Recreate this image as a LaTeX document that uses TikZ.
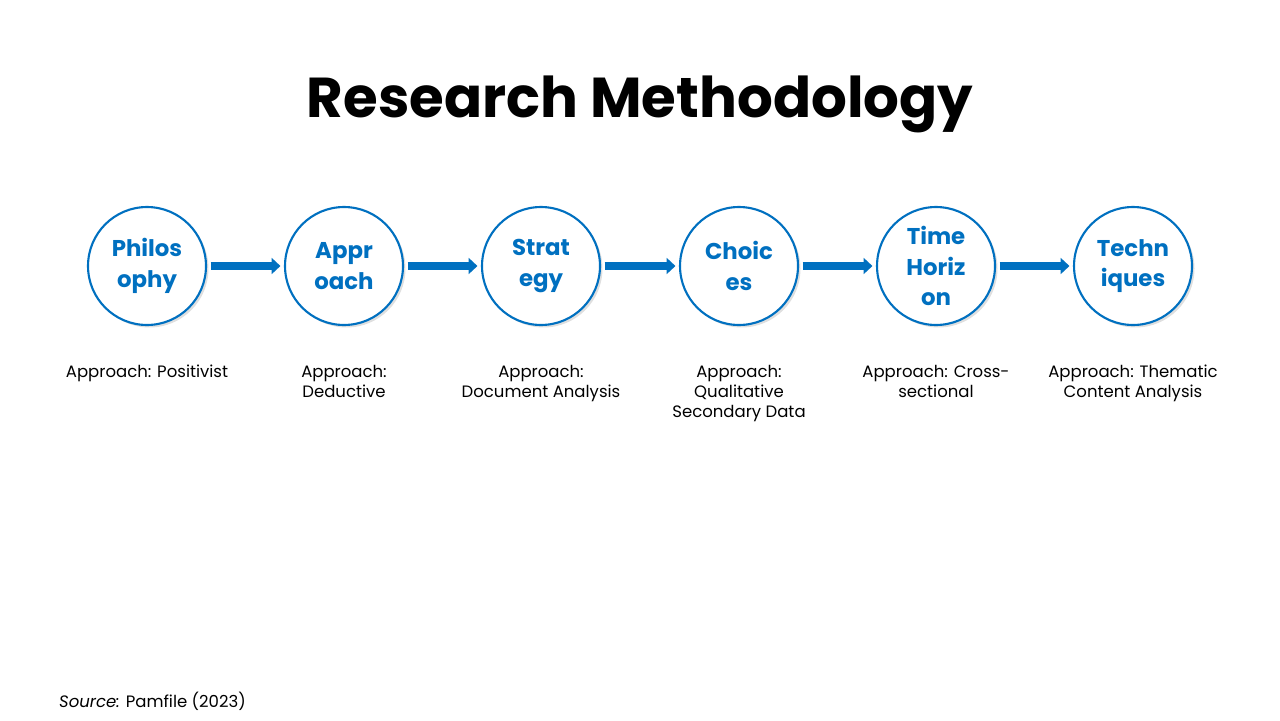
\documentclass[tikz,border=0pt]{standalone}
\usepackage{fontspec}
\setmainfont{Poppins}
\usetikzlibrary{shadows,arrows.meta}
\definecolor{stepblue}{RGB}{0,112,192}
\tikzset{stage/.style = {circle, draw=stepblue, line width=1.2pt, fill=white, minimum size=2.36cm, inner sep=0pt,
            align=center, text=stepblue, font=\fontsize{13}{17.5}\selectfont\bfseries, drop shadow={opacity=0.25, shadow xshift=0.05cm, shadow yshift=-0.05cm}},
        note/.style = {align=center, font=\fontsize{9.4}{11.3}\selectfont, anchor=north},
        link/.style = {-{Triangle[length=5pt,width=9pt]}, line width=4pt, draw=stepblue, shorten <=2pt, shorten >=2pt}
}
\begin{document}
\begin{tikzpicture}[x=0.02cm,y=-0.02cm]
    \useasboundingbox (0,0) rectangle (1280,720);
    \node[font=\fontsize{32}{38}\selectfont\bfseries] (title) at (640,104) {Research Methodology};
    \node[stage] (s1) at (147,266) {Philos\\ophy};
    \node[stage] (s2) at (344,266) {Appr\\oach};
    \node[stage] (s3) at (541,266) {Strat\\egy};
    \node[stage] (s4) at (739,266) {Choic\\es};
    \node[stage] (s5) at (936,266) {Time\\Horiz\\on};
    \node[stage] (s6) at (1133,266) {Techn\\iques};
    \foreach \a/\b in {s1/s2,s2/s3,s3/s4,s4/s5,s5/s6}
        \draw[link] (\a) -- (\b);

    \node[note] (n1) at (147,359) {Approach: Positivist};
    \node[note] (n2) at (344,359) {Approach:\\Deductive};
    \node[note] (n3) at (541,359) {Approach:\\Document Analysis};
    \node[note] (n4) at (739,359) {Approach:\\Qualitative\\Secondary Data};
    \node[note] (n5) at (936,359) {Approach: Cross-\\sectional};
    \node[note] (n6) at (1133,359) {Approach: Thematic\\Content Analysis};
    \node[font=\fontsize{9.4}{11.3}\selectfont, anchor=west] (src) at (53,701) {\textit{Source:} Pamfile (2023)};
\end{tikzpicture}
\end{document}
